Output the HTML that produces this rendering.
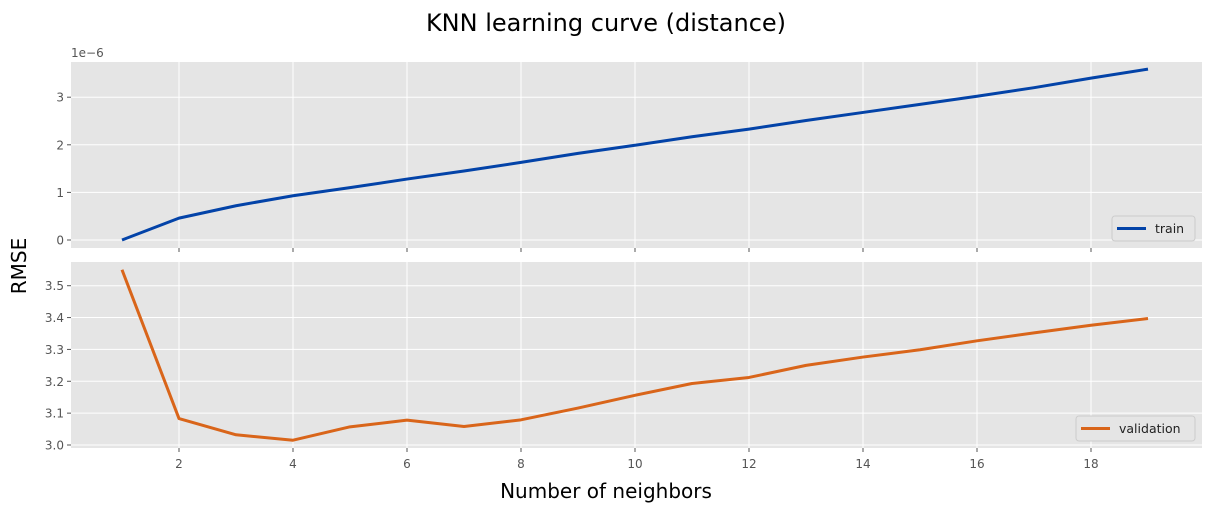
<!DOCTYPE html>
<html><head><meta charset="utf-8"><style>
body{margin:0;background:#fff;}
svg text{font-family:"DejaVu Sans","Liberation Sans",sans-serif;}
</style></head><body>
<svg id="chart" width="1211" height="511" xmlns="http://www.w3.org/2000/svg">
<text x="606" y="31" text-anchor="middle" font-size="24" fill="#000">KNN learning curve (distance)</text>
<text transform="translate(26,266) rotate(-90)" text-anchor="middle" font-size="20" fill="#000">RMSE</text>
<text x="606" y="498" text-anchor="middle" font-size="20" fill="#000">Number of neighbors</text>
<text x="71" y="57" font-size="12" fill="#555">1e−6</text>
<g id="top"></g><g id="bot"></g>
</svg>
<script>
const neighbors=[1,2,3,4,5,6,7,8,9,10,11,12,13,14,15,16,17,18,19];
const trainRmse=[0,0.46,0.72,0.93,1.1,1.28,1.45,1.63,1.82,1.99,2.17,2.33,2.51,2.68,2.85,3.02,3.2,3.4,3.59];
const valRmse=[3.55,3.083,3.032,3.015,3.057,3.078,3.058,3.079,3.116,3.156,3.193,3.212,3.25,3.276,3.299,3.327,3.352,3.376,3.397];
const xTicks=[2,4,6,8,10,12,14,16,18];
const topTicks=[0,1,2,3];
const botTicks=[3.0,3.1,3.2,3.3,3.4,3.5];
const NS="http://www.w3.org/2000/svg";
const L=71,R=1202;
const xs=v=>122+(v-1)*57;
function mk(p,t,a){const e=document.createElementNS(NS,t);for(const k in a)e.setAttribute(k,a[k]);p.appendChild(e);return e;}
function panel(g,top,bot,ys,ticks,fmt,data,color,label,showX,legW){
  const r=mk(g,'rect',{x:L,y:top,width:R-L,height:bot-top,fill:'#e5e5e5'});
  
  
  xTicks.forEach(t=>{
    const l=mk(g,'line',{x1:xs(t),x2:xs(t),y1:top,y2:bot,stroke:'#fff','stroke-width':1});
    
    
    const tk=mk(g,'line',{x1:xs(t),x2:xs(t),y1:bot,y2:bot+4,stroke:'#555'});
    
    
    if(showX){const tx=mk(g,'text',{x:xs(t),y:bot+20,'text-anchor':'middle','font-size':12,fill:'#555'});tx.textContent=t;
      
      }
  });
  ticks.forEach(t=>{
    const y=ys(t);
    const l=mk(g,'line',{x1:L,x2:R,y1:y,y2:y,stroke:'#fff','stroke-width':1});
    
    
    mk(g,'line',{x1:L-4,x2:L,y1:y,y2:y,stroke:'#555'});
    const tx=mk(g,'text',{x:L-7,y:y+4.5,'text-anchor':'end','font-size':12,fill:'#555'});tx.textContent=fmt(t);
    
    
  });
  const pts=neighbors.map((n,i)=>xs(n)+','+ys(data[i])).join(' ');
  const pl=mk(g,'polyline',{points:pts,fill:'none',stroke:color,'stroke-width':3,'stroke-linejoin':'round'});
  
  
  const lg=mk(g,'g',{});
  
  
  const lx=1195-legW, ly=bot-32;
  mk(lg,'rect',{x:lx,y:ly,width:legW,height:25,rx:3,fill:'#e5e5e5',stroke:'#ccc'});
  mk(lg,'line',{x1:lx+5,x2:lx+34,y1:ly+12.5,y2:ly+12.5,stroke:color,'stroke-width':3});
  const t=mk(lg,'text',{x:lx+43,y:ly+17,'font-size':12.5,fill:'#222'});t.textContent=label;
}
const ysTop=v=>240-v*47.6;
const ysBot=v=>445-(v-3)*318.6;
panel(document.getElementById('top'),62,248,ysTop,topTicks,t=>t,trainRmse,'#0343a8','train',false,83);
panel(document.getElementById('bot'),262,448,ysBot,botTicks,t=>t.toFixed(1),valRmse,'#d9651a','validation',true,119);
</script>
</body></html>
